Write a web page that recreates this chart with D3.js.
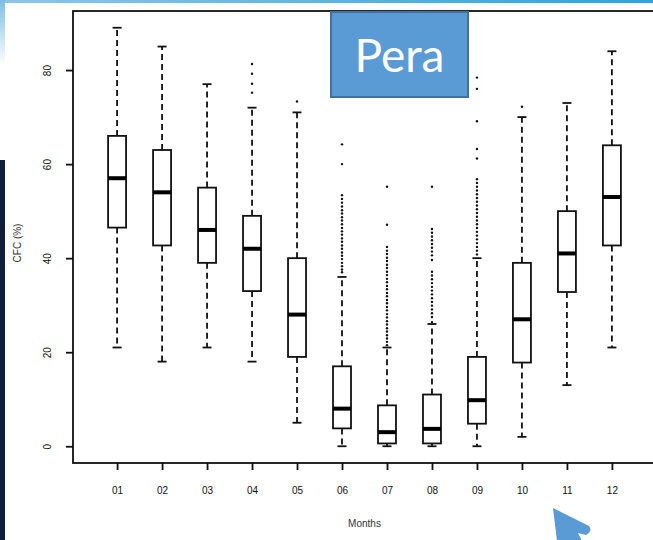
<!DOCTYPE html>
<meta charset="utf-8">
<head>
<style>
  body { margin: 0; background: #fff; overflow: hidden; }
  svg { display: block; }
  .axis text { font-family: "Liberation Sans", Arial, sans-serif; font-size: 10px; fill: #111; }
</style>
<script src="https://cdn.jsdelivr.net/npm/d3@7"></script>
</head>
<body>
<svg id="vis"></svg>
<script>
// box statistics per month (CFC %)
let months = ["01","02","03","04","05","06","07","08","09","10","11","12"]
let lowerWhisker = [21, 18, 21, 18, 5, 0, 0, 0, 0, 2, 13, 21]
let q1 = [46.5, 42.7, 39, 33, 19, 3.8, 0.6, 0.6, 4.8, 17.8, 32.8, 42.7]
let medians = [57, 54, 46, 42, 28, 8, 3, 3.7, 9.8, 27, 41, 53]
let q3 = [66, 63, 55, 49, 40, 17, 8.7, 11, 19, 39, 50, 64]
let upperWhisker = [89, 85, 77, 72, 71, 36, 21, 26, 40, 70, 73, 84]
let outliers = [
  [], [], [],
  [81.3, 79.2, 77.1, 75.2],
  [73.3],
  [64.2, 60, 53.4, 52.6, 51.8, 51, 50.2, 49.5, 48.7, 48, 47.2, 46.4, 45.7, 45, 44.2, 43.5, 42.7, 42, 41.2, 40.5, 39.8, 39, 38.3, 37.6, 37],
  [55.2, 47.1, 42.4, 41.6, 40.9, 40.1, 39.4, 38.6, 37.9, 37.1, 36.4, 35.6, 34.9, 34.1, 33.4, 32.6, 31.9, 31.1, 30.4, 29.6, 28.9, 28.1, 27.4, 26.6, 25.9, 25.1, 24.4, 23.6, 22.9, 22.2, 21.5],
  [55.2, 46.2, 45.4, 44.6, 43.8, 43, 42.2, 41.4, 40.6, 39.6, 37.1, 36.3, 35.5, 34.7, 33.9, 33.1, 32.3, 31.5, 30.7, 29.9, 29.1, 28.3, 27.5, 26.4],
  [78.4, 76, 69.1, 63.2, 61.2, 56.8, 56, 55.2, 54.4, 53.6, 52.8, 52, 51.2, 50.4, 49.6, 48.8, 48, 47.2, 46.4, 45.6, 44.8, 44, 43.2, 42.4, 41.6, 40.8],
  [72.2],
  [], []
]
let yTicks = [0, 20, 40, 60, 80]

let width = 653, height = 540
let svg = d3.select("#vis").attr("width", width).attr("height", height)

// plot frame like R: xlim 0.5..12.5 plus 4%, ylim 0..89 plus 4%
let frame = { left: 73, right: 656, top: 11, bottom: 463 }
let xScale = d3.scaleLinear().domain([0.02, 12.98]).range([frame.left, frame.right])
let yScale = d3.scaleLinear().domain([-3.56, 92.56]).range([frame.bottom, frame.top])
let boxW = xScale(1.4) - xScale(1)
let lw = 1.8

// slide decoration
let topGrad = svg.append("defs").append("linearGradient").attr("id", "topband")
topGrad.append("stop").attr("offset", "0%").attr("stop-color", "#8cc6ea")
topGrad.append("stop").attr("offset", "100%").attr("stop-color", "#2fa3dc")
svg.append("rect").attr("x", 0).attr("y", 0).attr("width", width).attr("height", 3).attr("fill", "url(#topband)")
let sideGrad = svg.select("defs").append("linearGradient").attr("id", "sideband")
  .attr("x1", 0).attr("y1", 0).attr("x2", 0).attr("y2", 1)
sideGrad.append("stop").attr("offset", "0%").attr("stop-color", "#7dbde6")
sideGrad.append("stop").attr("offset", "100%").attr("stop-color", "#ffffff")
svg.append("rect").attr("x", 0).attr("y", 0).attr("width", 5).attr("height", 65).attr("fill", "url(#sideband)")
svg.append("rect").attr("x", 0).attr("y", 160).attr("width", 5).attr("height", 380).attr("fill", "#0f1f3b")

// frame
svg.append("rect")
  .attr("x", frame.left).attr("y", frame.top)
  .attr("width", frame.right - frame.left).attr("height", frame.bottom - frame.top)
  .attr("fill", "none").attr("stroke", "#111").attr("stroke-width", lw)

let stats = months.map((m, i) => ({
  month: m, x: i + 1, lo: lowerWhisker[i], q1: q1[i], med: medians[i], q3: q3[i], hi: upperWhisker[i], out: outliers[i]
}))

let boxes = svg.append("g").selectAll("g").data(stats).enter().append("g")

// whiskers, dashed
boxes.append("line")
  .attr("x1", d => xScale(d.x)).attr("x2", d => xScale(d.x))
  .attr("y1", d => yScale(d.q3)).attr("y2", d => yScale(d.hi))
  .attr("stroke", "#111").attr("stroke-width", lw).attr("stroke-dasharray", "6,4")
boxes.append("line")
  .attr("x1", d => xScale(d.x)).attr("x2", d => xScale(d.x))
  .attr("y1", d => yScale(d.q1)).attr("y2", d => yScale(d.lo))
  .attr("stroke", "#111").attr("stroke-width", lw).attr("stroke-dasharray", "6,4")
// staples
boxes.selectAll(".staple").data(d => [d.hi, d.lo].map(v => ({ x: d.x, v }))).enter().append("line")
  .attr("x1", d => xScale(d.x) - boxW / 4).attr("x2", d => xScale(d.x) + boxW / 4)
  .attr("y1", d => yScale(d.v)).attr("y2", d => yScale(d.v))
  .attr("stroke", "#111").attr("stroke-width", lw)

// boxes
boxes.append("rect")
  .attr("x", d => xScale(d.x) - boxW / 2).attr("width", boxW)
  .attr("y", d => yScale(d.q3)).attr("height", d => yScale(d.q1) - yScale(d.q3))
  .attr("fill", "#fff").attr("stroke", "#111").attr("stroke-width", lw)
boxes.append("line")
  .attr("x1", d => xScale(d.x) - boxW / 2).attr("x2", d => xScale(d.x) + boxW / 2)
  .attr("y1", d => yScale(d.med)).attr("y2", d => yScale(d.med))
  .attr("stroke", "#000").attr("stroke-width", 4)

// outliers
boxes.selectAll(".out").data(d => d.out.map(v => ({ x: d.x, v }))).enter().append("circle")
  .attr("cx", d => xScale(d.x)).attr("cy", d => yScale(d.v)).attr("r", 1.2).attr("fill", "#111")

// axes
let axisX = d3.axisBottom(xScale).tickValues(d3.range(1, 13)).tickFormat(d => months[d - 1])
  .tickSize(7).tickPadding(17)
let gx = svg.append("g").attr("class", "axis").attr("transform", `translate(0,${frame.bottom})`).call(axisX)
gx.select(".domain").remove()
gx.selectAll("line").attr("stroke", "#111").attr("stroke-width", lw)

let axisY = d3.axisLeft(yScale).tickValues(yTicks).tickSize(7).tickPadding(0)
let gy = svg.append("g").attr("class", "axis").attr("transform", `translate(${frame.left},0)`).call(axisY)
gy.select(".domain").remove()
gy.selectAll("line").attr("stroke", "#111").attr("stroke-width", lw)
gy.selectAll("text")
  .attr("x", 0).attr("dy", 0).attr("text-anchor", "middle")
  .attr("transform", "translate(-26,0) rotate(-90)")
  .attr("y", 3.5)

svg.append("text")
  .attr("transform", `translate(21,${(frame.top + frame.bottom) / 2 + 6}) rotate(-90)`)
  .attr("text-anchor", "middle")
  .style("font-family", "Liberation Sans, Arial, sans-serif").style("font-size", "10px").attr("fill", "#333")
  .text("CFC (%)")
svg.append("text")
  .attr("x", (frame.left + frame.right) / 2).attr("y", 527)
  .attr("text-anchor", "middle")
  .style("font-family", "Liberation Sans, Arial, sans-serif").style("font-size", "10px").attr("fill", "#333")
  .text("Months")

// "Pera" label box
svg.append("rect").attr("x", 331).attr("y", 12).attr("width", 137).attr("height", 85)
  .attr("fill", "#5b9bd5").attr("stroke", "#41719c").attr("stroke-width", 2)
svg.append("text").attr("x", 399.5).attr("y", 72).attr("text-anchor", "middle")
  .style("font-family", "Lato, sans-serif").style("font-size", "46px").attr("fill", "#fff")
  .text("Pera")

// pointer arrow at bottom right
svg.append("path")
  .attr("d", "M553,508 L589,526 Q593,531 586,535 L578,533 L592,560 L566,566 L557,541 Z")
  .attr("fill", "#5b9bd5")
</script>
</body>
